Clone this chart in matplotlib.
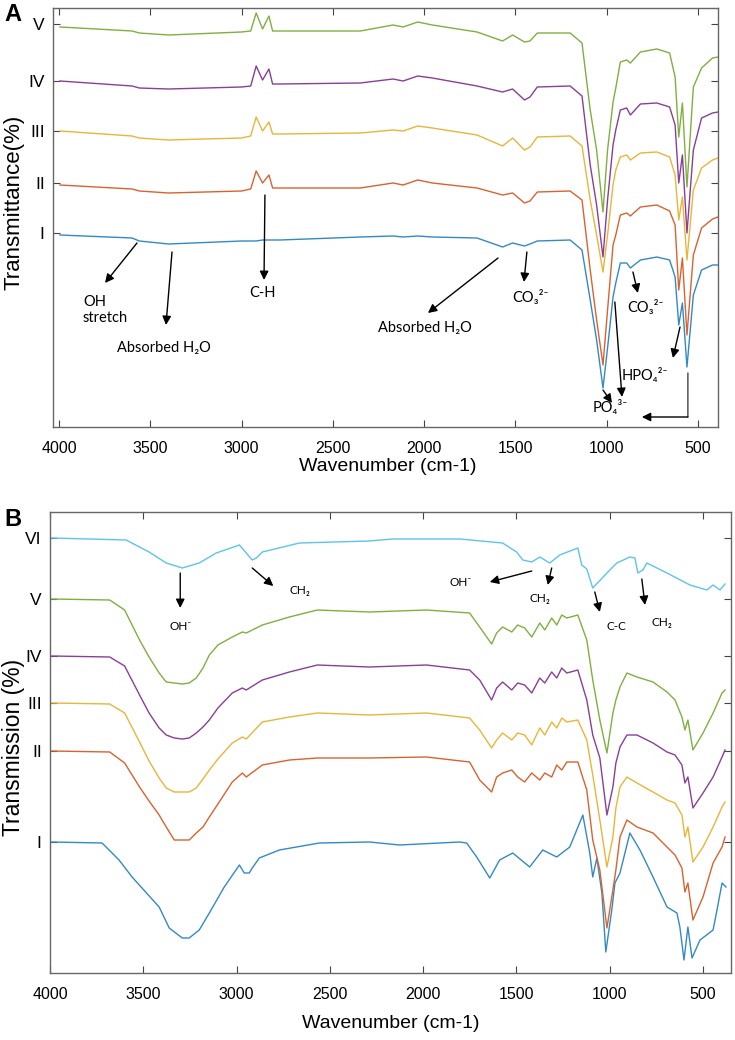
import matplotlib
matplotlib.use("Agg")
import matplotlib.pyplot as plt

plt.rcParams['font.family'] = ['Liberation Sans', 'DejaVu Sans']

# ---------------- Panel A data ----------------
wn_a = [3995, 3600, 3560, 3400, 3000, 2950, 2920, 2885, 2850, 2830, 2790, 2350, 2170, 2115,
        2035, 1955, 1710, 1570, 1515, 1450, 1420, 1380, 1200, 1135, 1090, 1055, 1020, 995,
        965, 950, 925, 890, 870, 815, 725, 655, 625, 605, 585, 560, 525, 480, 420, 390]
a_I = [-2, -5, -8, -11, -8, -8, -8, -7, -7, -7, -7, -4, -3, -4, -3, -4, -5, -14, -10, -13, -11, -8,
       -7, -17, -67, -107, -155, -115, -64, -50, -30, -30, -35, -27, -24, -27, -44, -92, -70, -134,
       -62, -37, -32, -32]
a_II = [-2, -6, -8, -10, -8, -6, 12, 0, 8, -5, -5, -5, 0, -2, 3, 0, -5, -12, -10, -20, -18, -9,
        -8, -17, -87, -137, -182, -127, -62, -52, -32, -30, -33, -24, -22, -28, -42, -107, -75,
        -152, -72, -45, -36, -34]
a_III = [0, -5, -7, -9, -7, -5, 14, 0, 9, -3, -3, -2, 1, 0, 5, 3, -4, -15, -7, -19, -16, -6,
         -5, -15, -69, -104, -141, -104, -54, -39, -26, -24, -29, -22, -21, -26, -44, -89, -66,
         -129, -59, -37, -29, -27]
a_IV = [0, -5, -7, -8, -6, -5, 15, 1, 12, -3, -3, -2, 2, 0, 5, 3, -5, -11, -8, -19, -16, -6,
        -5, -15, -84, -124, -176, -119, -64, -49, -29, -27, -34, -23, -22, -26, -44, -102, -74,
        -152, -69, -37, -32, -31]
a_V = [-3, -7, -9, -11, -8, -7, 11, -5, 8, -7, -7, -7, -1, -3, 2, -1, -8, -17, -11, -18, -17, -9,
       -9, -19, -86, -126, -188, -126, -78, -64, -38, -36, -39, -28, -25, -29, -53, -113, -79,
       -163, -63, -44, -34, -33]
labels_a = ['I', 'II', 'III', 'IV', 'V']
offsets_a = [194, 244, 296, 346, 403]

# ---------------- Panel B data ----------------
wn_b = [3990, 3680, 3600, 3520, 3469, 3415, 3377, 3334, 3290, 3254, 3216, 3180, 3146, 3100,
        3023, 2969, 2948, 2862, 2717, 2567, 2288, 1982, 1751, 1697, 1633, 1606, 1574, 1525,
        1493, 1456, 1418, 1375, 1348, 1311, 1284, 1257, 1230, 1171, 1123, 1091, 1053, 1015,
        983, 967, 945, 908, 854, 768, 693, 650, 613, 597, 581, 554, 500, 446, 398, 382]
b_II = [0, -1, -12, -36, -50, -64, -76, -89, -89, -89, -82, -76, -66, -53,
        -31, -22, -26, -14, -9, -7, -7, -6, -11, -29, -41, -26, -22, -19,
        -26, -31, -22, -29, -22, -26, -14, -19, -11, -11, -39, -89, -119, -177,
        -139, -119, -86, -69, -76, -82, -96, -104, -117, -141, -132, -169, -146, -112, -96, -86]
b_III = [0, -1, -10, -39, -58, -75, -85, -89, -89, -89, -85, -76, -67, -56,
         -40, -34, -36, -19, -14, -10, -12, -10, -15, -27, -45, -37, -30, -37,
         -30, -32, -42, -25, -32, -19, -25, -15, -19, -17, -37, -72, -117, -164,
         -134, -105, -84, -74, -80, -89, -97, -100, -112, -134, -124, -159, -144, -124, -104, -99]
b_IV = [0, -1, -10, -39, -57, -72, -79, -82, -83, -82, -77, -71, -64, -52,
        -37, -32, -34, -24, -16, -9, -11, -9, -14, -24, -44, -32, -26, -34,
        -27, -29, -37, -22, -27, -16, -22, -12, -17, -14, -44, -79, -102, -159,
        -131, -107, -91, -79, -79, -87, -96, -99, -109, -127, -121, -152, -137, -121, -101, -94]
b_V = [0, -1, -11, -41, -58, -74, -83, -84, -85, -84, -79, -69, -56, -46,
       -38, -33, -34, -26, -18, -11, -13, -11, -14, -28, -45, -34, -28, -33,
       -26, -29, -38, -24, -31, -19, -26, -16, -19, -16, -41, -81, -121, -154,
       -114, -101, -88, -74, -78, -83, -93, -101, -118, -131, -121, -151, -134, -114, -94, -91]
wn_b1 = [3990, 3721, 3630, 3560, 3415, 3361, 3291, 3254, 3200, 3146, 3066, 2985, 2959, 2932,
         2916, 2878, 2771, 2556, 2288, 2127, 1804, 1767, 1713, 1643, 1590, 1520, 1429, 1359,
         1284, 1214, 1144, 1107, 1091, 1069, 1042, 1021, 989, 972, 945, 892, 838, 768, 693,
         640, 624, 602, 581, 559, 516, 446, 420, 398, 377]
b_I = [0, -1, -18, -35, -65, -86, -96, -96, -88, -71, -45, -23, -31, -31, -26, -16, -8, -1, 0,
       -3, 0, -1, -15, -36, -18, -11, -25, -8, -15, -5, 27, -11, -35, -16, -51, -110, -68, -41,
       -31, 9, -8, -35, -65, -71, -85, -118, -85, -116, -98, -88, -63, -41, -45]
wn_b6 = [3990, 3592, 3469, 3377, 3291, 3200, 3109, 2985, 2948, 2916, 2894, 2862, 2663, 2288,
         2164, 1804, 1574, 1499, 1466, 1418, 1375, 1321, 1268, 1171, 1150, 1123, 1091, 1015,
         962, 892, 865, 849, 822, 801, 693, 570, 479, 446, 409, 382]
b_VI = [0, -2, -14, -25, -30, -25, -15, -7, -15, -22, -20, -14, -5, -3, -1, -1, -5, -14, -22,
        -24, -19, -25, -17, -10, -27, -31, -50, -35, -25, -19, -20, -35, -32, -25, -35, -47,
        -52, -47, -52, -46]
labels_b = ['I', 'II', 'III', 'IV', 'V', 'VI']
offsets_b = [131, 222, 270, 317, 374, 435]

colors = ['#3389C6', '#D8632F', '#E9B53A', '#8A3E97', '#7FB03F', '#5EC3EC']
xticks = [4000, 3500, 3000, 2500, 2000, 1500, 1000, 500]

W, H = 735, 1040
fig = plt.figure(figsize=(W / 100, H / 100), dpi=100)
axA = fig.add_axes([53 / W, 1 - 427 / H, 665 / W, 419 / H])
axB = fig.add_axes([50 / W, 1 - 973 / H, 681 / W, 461 / H])


def style(ax):
    ax.tick_params(direction='in', top=True, right=True, length=5, width=0.8,
                   labelsize=11.5, colors='#444444', labelcolor='black')
    ax.tick_params(axis='x', pad=10)
    ax.tick_params(axis='y', labelsize=12.5, pad=6)
    for s in ax.spines.values():
        s.set_color('#666666')
        s.set_linewidth(1.0)
    ax.set_xticks(xticks)


# ---- Panel A ----
series_a = [a_I, a_II, a_III, a_IV, a_V]
for vals, off, c in zip(series_a, offsets_a, colors):
    axA.plot(wn_a, [off + v for v in vals], color=c, lw=1.0)
axA.set_xlim(4033, 390)
axA.set_ylim(0, 419)
style(axA)
axA.set_yticks(offsets_a)
axA.set_yticklabels(labels_a)
axA.set_xlabel('Wavenumber (cm-1)', fontsize=14)
axA.xaxis.set_label_coords(0.504, -0.075)
axA.set_ylabel('Transmittance(%)', fontsize=16)
axA.yaxis.set_label_coords(-0.043, 0.535)

ann_font = ['Lato', 'DejaVu Sans']
akw = dict(arrowstyle='-|>', color='black', lw=1.0, mutation_scale=13, shrinkA=0, shrinkB=0)


def arrow(ax, tail, head, **kw):
    p = dict(akw)
    p.update(kw)
    ax.annotate('', xy=head, xytext=tail, arrowprops=p, zorder=5)


def label(ax, x, y, s, fs=10.5, ha='center'):
    ax.text(x, y, s, fontsize=fs, ha=ha, va='center', family=ann_font, zorder=5)


label(axA, 3869, 117, 'OH\nstretch', ha='left')
arrow(axA, (3573, 184), (3748, 144))
label(axA, 3425, 79, 'Absorbed H₂O')
arrow(axA, (3381, 175), (3414, 102))
label(axA, 2883, 134, 'C-H')
arrow(axA, (2872, 232), (2877, 147))
label(axA, 1995, 99, 'Absorbed H₂O')
arrow(axA, (1595, 169), (1979, 114))
label(axA, 1420, 129, 'CO₃²⁻')
arrow(axA, (1437, 175), (1453, 145))
label(axA, 785, 120, 'CO₃²⁻')
arrow(axA, (856, 155), (829, 134))
label(axA, 790, 52, 'HPO₄²⁻')
label(axA, 982, 19, 'PO₄³⁻')
arrow(axA, (1020, 37), (971, 24))
arrow(axA, (955, 125), (916, 30))
arrow(axA, (598, 100), (637, 69))
axA.annotate('', xy=(555, 10), xytext=(555, 54),
             arrowprops=dict(arrowstyle='-', color='#444444', lw=1.0, shrinkA=0, shrinkB=0))
arrow(axA, (555, 10), (807, 10))

# ---- Panel B ----
axB.plot(wn_b1, [offsets_b[0] + v for v in b_I], color=colors[0], lw=1.0)
for vals, off, c in zip([b_II, b_III, b_IV, b_V], offsets_b[1:5], colors[1:5]):
    axB.plot(wn_b, [off + v for v in vals], color=c, lw=1.0)
axB.plot(wn_b6, [offsets_b[5] + v for v in b_VI], color=colors[5], lw=1.0)
axB.set_xlim(4000, 350)
axB.set_ylim(0, 461)
style(axB)
axB.set_yticks(offsets_b)
axB.set_yticklabels(labels_b)
axB.set_xlabel('Wavenumber (cm-1)', fontsize=14)
axB.xaxis.set_label_coords(0.5, -0.092)
axB.set_ylabel('Transmission (%)', fontsize=16.5)
axB.yaxis.set_label_coords(-0.036, 0.49)

label(axB, 3302, 346, 'OH⁻', fs=8.5)
arrow(axB, (3302, 400), (3302, 365))
label(axB, 2663, 383, 'CH₂', fs=8.5)
arrow(axB, (2916, 405), (2803, 387))
label(axB, 1799, 391, 'OH⁻', fs=8.5)
arrow(axB, (1418, 402), (1643, 391))
label(axB, 1375, 375, 'CH₂', fs=8.5)
arrow(axB, (1311, 405), (1332, 388))
label(axB, 962, 346, 'C-C', fs=8.5)
arrow(axB, (1080, 381), (1053, 361))
label(axB, 720, 350, 'CH₂', fs=8.5)
arrow(axB, (828, 394), (811, 368))

fig.text(4 / W, 1 - 3 / H, 'A', fontsize=17, weight='bold', va='top', ha='left')
fig.text(4 / W, 1 - 508 / H, 'B', fontsize=17, weight='bold', va='top', ha='left')

fig.savefig('out.png', dpi=100)
